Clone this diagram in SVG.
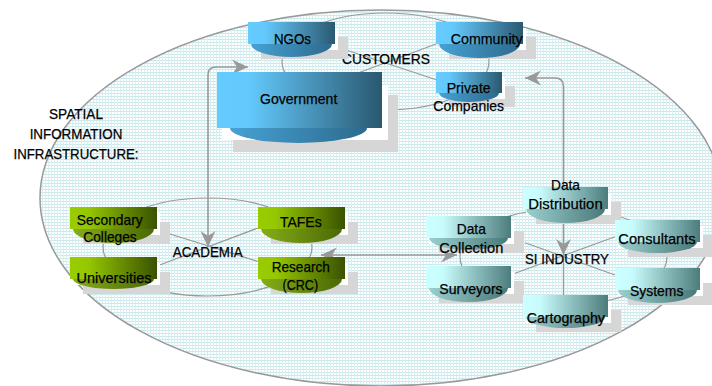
<svg xmlns="http://www.w3.org/2000/svg" width="712" height="386" viewBox="0 0 712 386">
  <style>
    .t { font-family: "Liberation Sans", Arial, Helvetica, sans-serif; font-size: 15px; fill: #000; stroke: #000; stroke-width: 0.25; text-anchor: middle; }
    .lbl { font-family: "Liberation Sans", Arial, Helvetica, sans-serif; font-size: 14.5px; fill: #000; stroke: #000; stroke-width: 0.25; text-anchor: middle; }
    .ring { fill: none; stroke: #9a9a9a; stroke-width: 1.2; }
    .conn { fill: none; stroke: #999; stroke-width: 1.6; }
    .shadow { fill: #d6d6d6; }
    .gap { fill: #ffffff; }
    .blue { fill: url(#gBlue); }
    .blueBowl { fill: url(#gBlueBowl); }
    .green { fill: url(#gGreen); }
    .greenBowl { fill: url(#gGreenBowl); }
    .cyan { fill: url(#gCyan); }
    .cyanBowl { fill: url(#gCyanBowl); }
  </style>
  <defs>
    <pattern id="grid" width="3" height="3" patternUnits="userSpaceOnUse">
      <rect width="3" height="3" fill="#ffffff"/>
      <rect width="3" height="1" fill="#c8e8ec"/>
      <rect width="1" height="3" fill="#d8f0f2"/>
    </pattern>
    <linearGradient id="gBlue" x1="0" y1="0" x2="1" y2="0">
      <stop offset="0" stop-color="#66ccff"/>
      <stop offset="0.2" stop-color="#63c8fb"/>
      <stop offset="1" stop-color="#2a5870"/>
    </linearGradient>
    <linearGradient id="gBlueBowl" x1="0" y1="0" x2="1" y2="0">
      <stop offset="0" stop-color="#46a2d4"/>
      <stop offset="1" stop-color="#2d6a8e"/>
    </linearGradient>
    <linearGradient id="gGreen" x1="0" y1="0" x2="1" y2="0">
      <stop offset="0" stop-color="#99cc00"/>
      <stop offset="0.2" stop-color="#96c800"/>
      <stop offset="1" stop-color="#3a5200"/>
    </linearGradient>
    <linearGradient id="gGreenBowl" x1="0" y1="0" x2="1" y2="0">
      <stop offset="0" stop-color="#86ad18"/>
      <stop offset="1" stop-color="#4b6905"/>
    </linearGradient>
    <linearGradient id="gCyan" x1="0" y1="0" x2="1" y2="0">
      <stop offset="0" stop-color="#ccffff"/>
      <stop offset="0.2" stop-color="#c8fbfb"/>
      <stop offset="1" stop-color="#4d7c7c"/>
    </linearGradient>
    <linearGradient id="gCyanBowl" x1="0" y1="0" x2="1" y2="0">
      <stop offset="0" stop-color="#9ad0d0"/>
      <stop offset="1" stop-color="#4a7878"/>
    </linearGradient>
    <marker id="arrow" viewBox="-17 -8 18 16" refX="0" refY="0" markerWidth="18" markerHeight="16" markerUnits="userSpaceOnUse" orient="auto-start-reverse">
      <path d="M0,0 L-16,-7.5 L-11,0 L-16,7.5 Z" fill="#999"/>
    </marker>
  </defs>

  <!-- infrastructure envelope -->
  <g id="background">
    <ellipse cx="381" cy="198" rx="341" ry="188" fill="url(#grid)" stroke="#999" stroke-width="1.5"/>
  </g>

  <!-- cluster rings and spokes -->
  <g id="rings">
    <ellipse class="ring" cx="385.5" cy="61.5" rx="103.5" ry="48.5"/>
    <line class="ring" x1="436" y1="44" x2="358" y2="73"/>
    <line class="ring" x1="340" y1="48" x2="437" y2="80"/>

    <ellipse class="ring" cx="207.5" cy="247" rx="104.5" ry="49"/>
    <line class="ring" x1="157" y1="230" x2="260" y2="262"/>
    <line class="ring" x1="157" y1="266" x2="258" y2="228"/>

    <ellipse class="ring" cx="563.5" cy="257" rx="103.5" ry="48"/>
    <line class="ring" x1="525" y1="242.7" x2="615" y2="275"/>
    <line class="ring" x1="515" y1="273.3" x2="615" y2="236.7"/>
    <line class="ring" x1="563.5" y1="255" x2="563.5" y2="298"/>
  </g>

  <!-- cluster titles -->
  <g id="labels">
    <text class="lbl" x="76" y="119.3" textLength="54" lengthAdjust="spacingAndGlyphs">SPATIAL</text>
    <text class="lbl" x="76" y="139" textLength="92.7" lengthAdjust="spacingAndGlyphs">INFORMATION</text>
    <text class="lbl" x="76" y="159.3" textLength="125" lengthAdjust="spacingAndGlyphs">INFRASTRUCTURE:</text>
    <text class="lbl" x="386" y="64" textLength="88" lengthAdjust="spacingAndGlyphs">CUSTOMERS</text>
    <text class="lbl" x="207.7" y="256.7" textLength="70" lengthAdjust="spacingAndGlyphs">ACADEMIA</text>
    <text class="lbl" x="567" y="264.3" textLength="84" lengthAdjust="spacingAndGlyphs">SI INDUSTRY</text>
  </g>

  <!-- links between clusters -->
  <g id="connectors">
    <path class="conn" d="M248,67 H216 Q208,67 208,75 V247" marker-start="url(#arrow)" marker-end="url(#arrow)"/>
    <path class="conn" d="M525,78 H555 Q563.5,78 563.5,86.5 V255" marker-start="url(#arrow)" marker-end="url(#arrow)"/>
    <path class="conn" d="M321,255 H457" marker-start="url(#arrow)" marker-end="url(#arrow)"/>
  </g>

  <!-- customers -->
  <g id="node-ngos">
    <rect class="shadow" x="261" y="37" width="87" height="22"/>
    <rect class="gap" x="251" y="28" width="87" height="22"/>
    <path class="blueBowl" d="M251,44 A40.5,13 0 0 0 332,44 Z"/>
    <rect class="blue" x="248" y="22" width="87" height="22"/>
    <text class="t" x="292.5" y="44" textLength="37" lengthAdjust="spacingAndGlyphs">NGOs</text>
  </g>
  <g id="node-community">
    <rect class="shadow" x="449" y="37" width="87" height="22"/>
    <rect class="gap" x="439" y="28" width="87" height="22"/>
    <path class="blueBowl" d="M439,44 A40.5,14 0 0 0 520,44 Z"/>
    <rect class="blue" x="436" y="22" width="87" height="22"/>
    <text class="t" x="486.7" y="44" textLength="72" lengthAdjust="spacingAndGlyphs">Community</text>
  </g>
  <g id="node-private">
    <rect class="shadow" x="449" y="86" width="66" height="21"/>
    <rect class="gap" x="439" y="78" width="66" height="21"/>
    <path class="blueBowl" d="M439,93 A30,9 0 0 0 499,93 Z"/>
    <rect class="blue" x="436" y="72" width="66" height="21"/>
    <text class="t" x="468.7" y="93" textLength="44" lengthAdjust="spacingAndGlyphs">Private</text>
    <text class="t" x="468.7" y="111" textLength="70.7" lengthAdjust="spacingAndGlyphs">Companies</text>
  </g>
  <g id="node-government">
    <rect class="shadow" x="233" y="95" width="165" height="57"/>
    <rect class="gap" x="222" y="85" width="166" height="55"/>
    <path class="blueBowl" d="M230,128 A68.5,15 0 0 0 367,128 Z"/>
    <rect class="blue" x="217" y="72" width="165" height="56"/>
    <text class="t" x="298.7" y="104" textLength="77.3" lengthAdjust="spacingAndGlyphs">Government</text>
  </g>

  <!-- academia -->
  <g id="node-secondary">
    <rect class="shadow" x="83" y="222" width="87" height="22"/>
    <rect class="gap" x="73" y="213" width="87" height="22"/>
    <path class="greenBowl" d="M73,229 A40.5,14 0 0 0 154,229 Z"/>
    <rect class="green" x="70" y="207" width="87" height="22"/>
    <text class="t" x="109.7" y="225" textLength="66" lengthAdjust="spacingAndGlyphs">Secondary</text>
    <text class="t" x="110" y="242" textLength="53.3" lengthAdjust="spacingAndGlyphs">Colleges</text>
  </g>
  <g id="node-universities">
    <rect class="shadow" x="83" y="272" width="87" height="22"/>
    <rect class="gap" x="73" y="263" width="87" height="22"/>
    <path class="greenBowl" d="M73,279 A40.5,10 0 0 0 154,279 Z"/>
    <rect class="green" x="70" y="257" width="87" height="22"/>
    <text class="t" x="114" y="283" textLength="75" lengthAdjust="spacingAndGlyphs">Universities</text>
  </g>
  <g id="node-tafes">
    <rect class="shadow" x="271" y="222" width="87" height="22"/>
    <rect class="gap" x="261" y="213" width="87" height="22"/>
    <path class="greenBowl" d="M261,229 A40.5,14 0 0 0 342,229 Z"/>
    <rect class="green" x="258" y="207" width="87" height="22"/>
    <text class="t" x="300.8" y="226.7" textLength="41.7" lengthAdjust="spacingAndGlyphs">TAFEs</text>
  </g>
  <g id="node-research">
    <rect class="shadow" x="271" y="272" width="87" height="22"/>
    <rect class="gap" x="261" y="263" width="87" height="22"/>
    <path class="greenBowl" d="M261,279 A40.5,14 0 0 0 342,279 Z"/>
    <rect class="green" x="258" y="257" width="87" height="22"/>
    <text class="t" x="300.8" y="271.7" textLength="58.3" lengthAdjust="spacingAndGlyphs">Research</text>
    <text class="t" x="300.3" y="290" textLength="35.7" lengthAdjust="spacingAndGlyphs">(CRC)</text>
  </g>

  <!-- SI industry -->
  <g id="node-data-distribution">
    <rect class="shadow" x="536" y="202" width="85" height="22"/>
    <rect class="gap" x="526" y="193" width="85" height="22"/>
    <path class="cyanBowl" d="M526,209 A39.5,14 0 0 0 605,209 Z"/>
    <rect class="cyan" x="523" y="187" width="85" height="22"/>
    <text class="t" x="565.5" y="190" textLength="29" lengthAdjust="spacingAndGlyphs">Data</text>
    <text class="t" x="565.5" y="209" textLength="74.3" lengthAdjust="spacingAndGlyphs">Distribution</text>
  </g>
  <g id="node-data-collection">
    <rect class="shadow" x="439" y="231" width="85" height="22"/>
    <rect class="gap" x="429" y="222" width="85" height="22"/>
    <path class="cyanBowl" d="M429,238 A39.5,12 0 0 0 508,238 Z"/>
    <rect class="cyan" x="426" y="216" width="85" height="22"/>
    <text class="t" x="471.3" y="234" textLength="29" lengthAdjust="spacingAndGlyphs">Data</text>
    <text class="t" x="471.3" y="252.5" textLength="64" lengthAdjust="spacingAndGlyphs">Collection</text>
  </g>
  <g id="node-consultants">
    <rect class="shadow" x="628" y="235" width="85" height="22"/>
    <rect class="gap" x="618" y="226" width="85" height="22"/>
    <path class="cyanBowl" d="M618,242 A39.5,11 0 0 0 697,242 Z"/>
    <rect class="cyan" x="615" y="220" width="85" height="22"/>
    <text class="t" x="657" y="244" textLength="77.3" lengthAdjust="spacingAndGlyphs">Consultants</text>
  </g>
  <g id="node-surveyors">
    <rect class="shadow" x="439" y="281" width="85" height="22"/>
    <rect class="gap" x="429" y="272" width="85" height="22"/>
    <path class="cyanBowl" d="M429,288 A39.5,14 0 0 0 508,288 Z"/>
    <rect class="cyan" x="426" y="266" width="85" height="22"/>
    <text class="t" x="471" y="294" textLength="63.3" lengthAdjust="spacingAndGlyphs">Surveyors</text>
  </g>
  <g id="node-systems">
    <rect class="shadow" x="628" y="283" width="85" height="22"/>
    <rect class="gap" x="618" y="274" width="85" height="22"/>
    <path class="cyanBowl" d="M618,290 A39.5,13 0 0 0 697,290 Z"/>
    <rect class="cyan" x="615" y="268" width="85" height="22"/>
    <text class="t" x="656.7" y="296" textLength="53.3" lengthAdjust="spacingAndGlyphs">Systems</text>
  </g>
  <g id="node-cartography">
    <rect class="shadow" x="536" y="310" width="85" height="22"/>
    <rect class="gap" x="526" y="301" width="85" height="22"/>
    <path class="cyanBowl" d="M526,317 A39.5,11 0 0 0 605,317 Z"/>
    <rect class="cyan" x="523" y="295" width="85" height="22"/>
    <text class="t" x="565.8" y="323" textLength="78.3" lengthAdjust="spacingAndGlyphs">Cartography</text>
  </g>
</svg>
